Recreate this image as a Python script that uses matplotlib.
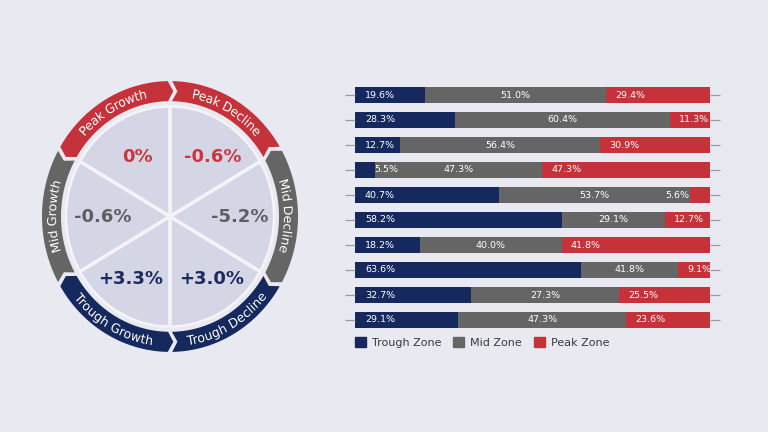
import numpy as np
import matplotlib
matplotlib.use("Agg")
from matplotlib import pyplot as plt
from matplotlib.patches import Polygon, Circle, PathPatch, Patch
from matplotlib.textpath import TextPath
from matplotlib.path import Path
from matplotlib.font_manager import FontProperties

# ring / wheel data
phase_names = ['Peak Growth', 'Peak Decline', 'Mid Decline',
               'Trough Decline', 'Trough Growth', 'Mid Growth']
phase_angles = [120, 60, 0, 300, 240, 180]          # middle of each 60 deg sector
phase_zone = ['peak', 'peak', 'mid', 'trough', 'trough', 'mid']
phase_values = ['0%', '-0.6%', '-5.2%', '+3.0%', '+3.3%', '-0.6%']

# stacked bars (widths as drawn, labels as printed)
trough = [19.6, 28.3, 12.7, 5.5, 40.7, 58.2, 18.2, 63.6, 32.7, 29.1]
mid = [51.0, 60.4, 56.4, 47.3, 53.7, 29.1, 40.0, 27.3, 41.8, 47.3]
peak = [29.4, 11.3, 30.9, 47.3, 5.6, 12.7, 41.8, 9.1, 25.5, 23.6]
mid_labels = ['51.0%', '60.4%', '56.4%', '47.3%', '53.7%',
              '29.1%', '40.0%', '41.8%', '27.3%', '47.3%']
legend_labels = ['Trough Zone', 'Mid Zone', 'Peak Zone']

BG = '#e9e9f2'
DISC = '#d4d6e5'
colors = {'trough': '#15295e', 'mid': '#656565', 'peak': '#c5323a'}
text_colors = {'trough': '#1c2a5e', 'mid': '#5d5d62', 'peak': '#c8373d'}

fig = plt.figure(figsize=(7.68, 4.32), dpi=100)
fig.patch.set_facecolor(BG)

# ---- wheel (1 data unit = 1 px horizontally, y slightly stretched)
ax = fig.add_axes([0, 0, 0.5, 1])
ystretch = 1.058
ax.set_xlim(-170, 214)
ax.set_ylim(-215.5 / ystretch, (432 - 215.5) / ystretch)
ax.set_aspect('auto')
ax.axis('off')

R_disc = 104
ax.add_patch(Circle((0, 0), R_disc, fc=DISC, ec='#f4f4f8', lw=1.8, zorder=1))
for a in [30, 90, 150]:
    t = np.radians(a)
    ax.plot([-R_disc * np.cos(t), R_disc * np.cos(t)],
            [-R_disc * np.sin(t), R_disc * np.sin(t)],
            color='#f4f4f8', lw=2.6, zorder=2, solid_capstyle='butt')

R_in, R_out = 109, 128
R_mid = (R_in + R_out) / 2
g, tip = 1.0, 2.6


def arc(r, a_from, a_to, n=40):
    t = np.radians(np.linspace(a_from, a_to, n))
    return np.column_stack([r * np.cos(t), r * np.sin(t)])


def pol(r, a):
    t = np.radians(a)
    return [[r * np.cos(t), r * np.sin(t)]]


fp = FontProperties(family='DejaVu Sans')


def arc_text(s, theta, r, size, outward=True):
    tp = TextPath((0, 0), s, size=size, prop=fp)
    bb = tp.get_extents()
    v = tp.vertices
    x = v[:, 0] - (bb.x0 + bb.x1) / 2
    y = v[:, 1] - size * 0.73 / 2
    th = np.radians(theta)
    if outward:
        ang = th - x / r
        rad = r + y
    else:
        ang = th + x / r
        rad = r - y
    nv = np.column_stack([rad * np.cos(ang), rad * np.sin(ang)])
    ax.add_patch(PathPatch(Path(nv, tp.codes), fc='white', ec='none', zorder=4))


for i, (name, mid_a, zone) in enumerate(zip(phase_names, phase_angles, phase_zone)):
    a0, a1 = mid_a - 30 + g, mid_a + 30 - g
    convex = i % 2 == 0
    s = tip if convex else -tip
    pts = np.vstack([arc(R_out, a0, a1), pol(R_mid, a1 + s),
                     arc(R_in, a1, a0), pol(R_mid, a0 - s)])
    ax.add_patch(Polygon(pts, closed=True, fc=colors[zone], ec='none', zorder=3))
    arc_text(name, mid_a, R_mid, 12.2, outward=not name.startswith('Trough'))

value_pos = [(-33, 59), (43, 59), (70, 0), (42, -63), (-39, -63), (-67, 0)]
for val, (dx, dy), zone in zip(phase_values, value_pos, phase_zone):
    ax.text(dx, dy / ystretch, val, ha='center', va='center', fontsize=13,
            fontweight='bold', color=text_colors[zone], zorder=5)

# ---- stacked bars
axb = fig.add_axes([355 / 768, (432 - 332.5) / 432, 355 / 768, 250 / 432])
axb.set_facecolor('none')
rows = np.arange(len(trough))
left_mid = np.array(trough)
left_peak = left_mid + np.array(mid)
axb.barh(rows, trough, height=0.64, color=colors['trough'])
axb.barh(rows, mid, left=left_mid, height=0.64, color=colors['mid'])
axb.barh(rows, peak, left=left_peak, height=0.64, color=colors['peak'])
axb.set_xlim(0, 100)
axb.set_ylim(len(trough) - 0.5, -0.5)
for sp in axb.spines.values():
    sp.set_visible(False)
axb.set_xticks([])
axb.set_yticks(rows)
axb.set_yticklabels([])
axb.tick_params(axis='y', left=True, right=True, length=7, width=0.9,
                color='#9a9aa0', direction='out')

lab = dict(color='white', fontsize=6.8, va='center')
for r in rows:
    t, m, p = trough[r], mid[r], peak[r]
    axb.text(t if t < 8 else 2.8, r, f'{t:.1f}%', ha='left', **lab)
    axb.text(t + m / 2, r, mid_labels[r], ha='center', **lab)
    if p < 8:
        axb.text(left_peak[r] - 0.3, r, f'{p:.1f}%', ha='right', **lab)
    else:
        axb.text(left_peak[r] + 2.6, r, f'{p:.1f}%', ha='left', **lab)

handles = [Patch(color=colors[z]) for z in ['trough', 'mid', 'peak']]
leg = fig.legend(handles, legend_labels, loc='upper left',
                 bbox_to_anchor=(355 / 768, 1 - 337 / 432), ncol=3, frameon=False,
                 handlelength=0.95, handleheight=0.95, handletextpad=0.55,
                 columnspacing=1.1, fontsize=8, borderaxespad=0, borderpad=0)
for txt in leg.get_texts():
    txt.set_color('#3a3a3a')

fig.savefig('out.png', dpi=100, facecolor=BG)
